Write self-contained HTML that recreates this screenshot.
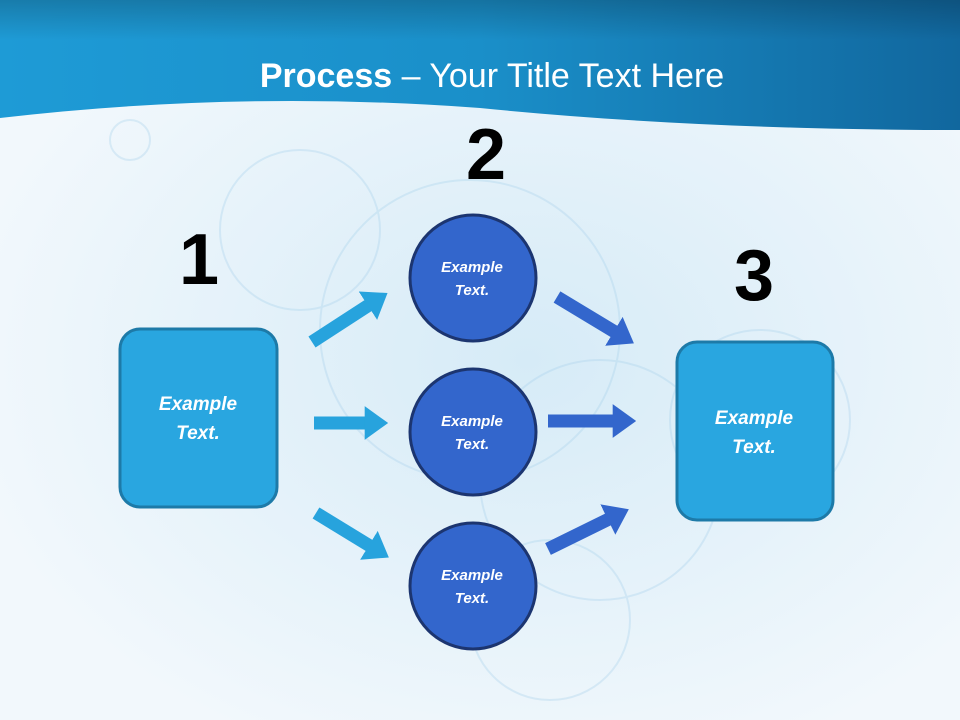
<!DOCTYPE html>
<html><head><meta charset="utf-8"><style>
html,body{margin:0;padding:0;width:960px;height:720px;overflow:hidden}
</style></head><body>
<svg width="960" height="720" viewBox="0 0 960 720" xmlns="http://www.w3.org/2000/svg">
<defs>
<linearGradient id="hd" x1="0" y1="0" x2="1" y2="0">
<stop offset="0" stop-color="#1e9bd6"/><stop offset="0.5" stop-color="#1a8fc9"/><stop offset="1" stop-color="#11679e"/>
</linearGradient>
<linearGradient id="hv" x1="0" y1="0" x2="0" y2="1">
<stop offset="0" stop-color="#000" stop-opacity="0.2"/><stop offset="1" stop-color="#000" stop-opacity="0"/>
</linearGradient>
<radialGradient id="bg" cx="0.55" cy="0.5" r="0.6">
<stop offset="0" stop-color="#d6ebf7"/><stop offset="1" stop-color="#f2f8fc"/>
</radialGradient>
<marker id="a1" markerWidth="1.8" markerHeight="2.6" refX="0.1" refY="1.3" orient="auto"><path d="M0,0 L1.8,1.3 L0,2.6z" fill="#27a3dd"/></marker>
<marker id="a2" markerWidth="1.8" markerHeight="2.6" refX="0.1" refY="1.3" orient="auto"><path d="M0,0 L1.8,1.3 L0,2.6z" fill="#3366cc"/></marker>
</defs>
<rect width="960" height="720" fill="url(#bg)"/>
<g fill="none" stroke="#a9d2ec" stroke-width="2" opacity="0.35">
<circle cx="470" cy="330" r="150"/><circle cx="600" cy="480" r="120"/><circle cx="300" cy="230" r="80"/>
<circle cx="760" cy="420" r="90"/><circle cx="550" cy="620" r="80"/><circle cx="130" cy="140" r="20"/>
</g>
<path d="M0,0 H960 V130 Q700,130 480,108 Q240,90 0,118 Z" fill="url(#hd)"/>
<path d="M0,0 H960 V40 H0Z" fill="url(#hv)"/>
<text x="492" y="87" text-anchor="middle" font-family="Liberation Sans, sans-serif" font-size="34" fill="#fff"><tspan font-weight="bold">Process</tspan> – Your Title Text Here</text>
<g font-family="Liberation Sans, sans-serif" font-weight="bold" font-size="72" fill="#000" text-anchor="middle">
<text x="199" y="284">1</text><text x="486" y="179">2</text><text x="754" y="300">3</text>
</g>
<g stroke-width="13">
<line x1="312" y1="342" x2="369" y2="305" stroke="#27a3dd" marker-end="url(#a1)"/>
<line x1="314" y1="423" x2="366" y2="423" stroke="#27a3dd" marker-end="url(#a1)"/>
<line x1="316" y1="513" x2="370" y2="546" stroke="#27a3dd" marker-end="url(#a1)"/>
<line x1="557" y1="297" x2="615" y2="332" stroke="#3366cc" marker-end="url(#a2)"/>
<line x1="548" y1="421" x2="614" y2="421" stroke="#3366cc" marker-end="url(#a2)"/>
<line x1="548" y1="549" x2="609" y2="519" stroke="#3366cc" marker-end="url(#a2)"/>
</g>
<rect x="120" y="329" width="157" height="178" rx="20" fill="#29a6e0" stroke="#1d7aa8" stroke-width="3"/>
<rect x="677" y="342" width="156" height="178" rx="20" fill="#29a6e0" stroke="#1d7aa8" stroke-width="3"/>
<g fill="#3366cc" stroke="#1c3570" stroke-width="3">
<circle cx="473" cy="278" r="63"/><circle cx="473" cy="432" r="63"/><circle cx="473" cy="586" r="63"/>
</g>
<g font-family="Liberation Sans, sans-serif" font-weight="bold" font-style="italic" fill="#fff" text-anchor="middle">
<g font-size="19"><text x="198" y="410">Example</text><text x="198" y="439">Text.</text>
<text x="754" y="424">Example</text><text x="754" y="453">Text.</text></g>
<g font-size="15"><text x="472" y="272">Example</text><text x="472" y="295">Text.</text>
<text x="472" y="426">Example</text><text x="472" y="449">Text.</text>
<text x="472" y="580">Example</text><text x="472" y="603">Text.</text></g>
</g>
</svg>
</body></html>
